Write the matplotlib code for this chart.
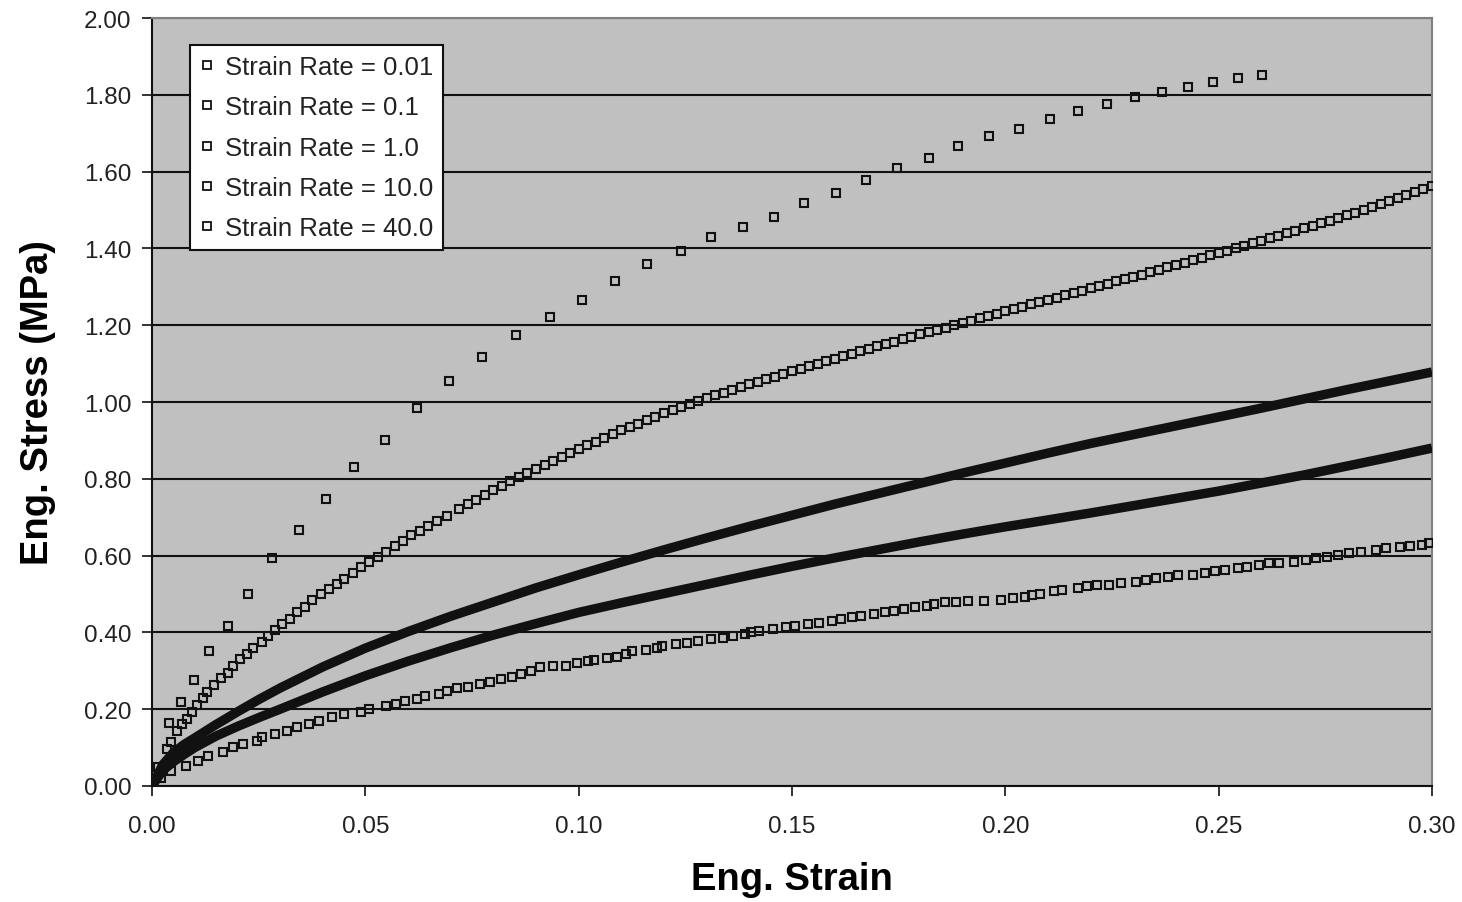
import matplotlib
matplotlib.use("Agg")
import matplotlib.pyplot as plt
from matplotlib.lines import Line2D

plt.rcParams['font.family'] = ['Liberation Sans', 'DejaVu Sans']

# strain rate = 0.01 (lowest curve)
sr001_strain = [0.0000, 0.0020, 0.0045, 0.0079, 0.0107, 0.0131, 0.0166, 0.0190, 0.0214, 0.0245,
                0.0257, 0.0288, 0.0316, 0.0340, 0.0368, 0.0391, 0.0423, 0.0451, 0.0490, 0.0509,
                0.0549, 0.0573, 0.0593, 0.0620, 0.0640, 0.0672, 0.0691, 0.0716, 0.0741, 0.0768,
                0.0792, 0.0818, 0.0843, 0.0866, 0.0888,
                0.0909, 0.0941, 0.0970, 0.0996, 0.1023, 0.1036, 0.1066, 0.1089, 0.1111, 0.1124,
                0.1158, 0.1184, 0.1195, 0.1228, 0.1254, 0.1279, 0.1309, 0.1339, 0.1361, 0.1390,
                0.1405, 0.1423, 0.1456, 0.1485, 0.1508, 0.1538, 0.1563, 0.1593, 0.1615, 0.1641,
                0.1662, 0.1692, 0.1718, 0.1740, 0.1762, 0.1788, 0.1817, 0.1832, 0.1859, 0.1884,
                0.1912, 0.1950,
                0.1991, 0.2017, 0.2045, 0.2062, 0.2081, 0.2115, 0.2132, 0.2171, 0.2192, 0.2216,
                0.2243, 0.2270, 0.2306, 0.2329, 0.2352, 0.2381, 0.2404, 0.2439, 0.2467, 0.2491,
                0.2515, 0.2545, 0.2566, 0.2594, 0.2618, 0.2641, 0.2677, 0.2704, 0.2727, 0.2755,
                0.2779, 0.2806, 0.2834, 0.2869, 0.2893, 0.2925, 0.2948, 0.2976, 0.2994]
sr001_stress = [0.000, 0.020, 0.040, 0.053, 0.066, 0.079, 0.088, 0.101, 0.109, 0.118,
                0.127, 0.135, 0.144, 0.153, 0.161, 0.170, 0.179, 0.188, 0.194, 0.200,
                0.209, 0.214, 0.222, 0.227, 0.235, 0.240, 0.248, 0.254, 0.259, 0.266,
                0.271, 0.278, 0.284, 0.291, 0.300,
                0.309, 0.312, 0.313, 0.320, 0.325, 0.328, 0.334, 0.337, 0.343, 0.351,
                0.355, 0.360, 0.365, 0.369, 0.372, 0.378, 0.382, 0.386, 0.391, 0.395,
                0.400, 0.404, 0.410, 0.413, 0.417, 0.421, 0.425, 0.430, 0.435, 0.439,
                0.443, 0.447, 0.452, 0.456, 0.461, 0.465, 0.470, 0.474, 0.478, 0.480,
                0.481, 0.483,
                0.485, 0.489, 0.493, 0.497, 0.501, 0.507, 0.510, 0.515, 0.520, 0.523,
                0.523, 0.528, 0.532, 0.536, 0.541, 0.545, 0.549, 0.549, 0.555, 0.559,
                0.563, 0.567, 0.571, 0.576, 0.580, 0.580, 0.584, 0.589, 0.593, 0.597,
                0.602, 0.606, 0.610, 0.615, 0.619, 0.623, 0.626, 0.628, 0.633]

# strain rate = 0.1 (lower solid band)
sr01_strain = [0.0, 0.0025, 0.005, 0.0075, 0.01, 0.015, 0.02, 0.025, 0.03, 0.04,
               0.05, 0.06, 0.07, 0.08, 0.09, 0.10, 0.11, 0.12, 0.13, 0.14,
               0.15, 0.16, 0.17, 0.18, 0.19, 0.20, 0.21, 0.22, 0.23, 0.24,
               0.25, 0.26, 0.27, 0.28, 0.29, 0.30]
sr01_stress = [0.000, 0.040, 0.063, 0.082, 0.100, 0.130, 0.155, 0.178, 0.200, 0.245,
               0.287, 0.325, 0.360, 0.393, 0.423, 0.452, 0.477, 0.501, 0.525, 0.549,
               0.572, 0.594, 0.615, 0.636, 0.656, 0.675, 0.693, 0.711, 0.730, 0.749,
               0.768, 0.789, 0.810, 0.833, 0.856, 0.880]

# strain rate = 1.0 (upper solid band)
sr1_strain = [0.0, 0.0025, 0.005, 0.0075, 0.01, 0.015, 0.02, 0.025, 0.03, 0.04,
              0.05, 0.06, 0.07, 0.08, 0.09, 0.10, 0.11, 0.12, 0.13, 0.14,
              0.15, 0.16, 0.17, 0.18, 0.19, 0.20, 0.21, 0.22, 0.23, 0.24,
              0.25, 0.26, 0.27, 0.28, 0.29, 0.30]
sr1_stress = [0.000, 0.055, 0.087, 0.108, 0.125, 0.160, 0.193, 0.225, 0.255, 0.310,
              0.359, 0.402, 0.442, 0.479, 0.516, 0.550, 0.583, 0.615, 0.646, 0.676,
              0.705, 0.734, 0.761, 0.788, 0.815, 0.841, 0.867, 0.892, 0.915, 0.938,
              0.961, 0.984, 1.008, 1.032, 1.055, 1.078]

# strain rate = 10.0
sr10_strain = [0.0, 0.0015, 0.0036, 0.0045, 0.0059, 0.0071, 0.0083, 0.0094, 0.0106, 0.0119,
               0.0130, 0.0146, 0.0161, 0.0178, 0.0190, 0.0206, 0.0222, 0.0237, 0.0257, 0.0273,
               0.0289, 0.0305, 0.0324, 0.0340, 0.0359, 0.0376, 0.0395, 0.0415, 0.0434, 0.0451,
               0.0470, 0.0490, 0.0509, 0.0529, 0.0549, 0.0569, 0.0588, 0.0608, 0.0628, 0.0648,
               0.0667, 0.0691,
               0.072, 0.074, 0.076, 0.078, 0.080, 0.082, 0.084, 0.086, 0.088, 0.090,
               0.092, 0.094, 0.096, 0.098, 0.100, 0.102, 0.104, 0.106, 0.108, 0.110,
               0.112, 0.114, 0.116, 0.118, 0.120, 0.122, 0.124, 0.126, 0.128, 0.130,
               0.132, 0.134, 0.136, 0.138, 0.140, 0.142, 0.144, 0.146, 0.148, 0.150,
               0.152, 0.154, 0.156, 0.158, 0.160, 0.162, 0.164, 0.166, 0.168, 0.170,
               0.172, 0.174, 0.176, 0.178, 0.180, 0.182, 0.184, 0.186, 0.188, 0.190,
               0.192, 0.194, 0.196, 0.198, 0.200, 0.202, 0.204, 0.206, 0.208, 0.210,
               0.212, 0.214, 0.216, 0.218, 0.220, 0.222, 0.224, 0.226, 0.228, 0.230,
               0.232, 0.234, 0.236, 0.238, 0.240, 0.242, 0.244, 0.246, 0.248, 0.250,
               0.252, 0.254, 0.256, 0.258, 0.260, 0.262, 0.264, 0.266, 0.268, 0.270,
               0.272, 0.274, 0.276, 0.278, 0.280, 0.282, 0.284, 0.286, 0.288, 0.290,
               0.292, 0.294, 0.296, 0.298, 0.300]
sr10_stress = [0.000, 0.050, 0.096, 0.114, 0.144, 0.161, 0.174, 0.192, 0.211, 0.228,
               0.246, 0.264, 0.281, 0.294, 0.312, 0.330, 0.343, 0.360, 0.374, 0.391,
               0.405, 0.422, 0.436, 0.453, 0.466, 0.484, 0.501, 0.514, 0.527, 0.540,
               0.554, 0.571, 0.584, 0.597, 0.610, 0.624, 0.637, 0.654, 0.663, 0.676,
               0.690, 0.703,
               0.722, 0.734, 0.746, 0.758, 0.770, 0.781, 0.793, 0.804, 0.815, 0.826,
               0.836, 0.847, 0.857, 0.868, 0.878, 0.888, 0.897, 0.907, 0.916, 0.926,
               0.935, 0.944, 0.953, 0.962, 0.971, 0.979, 0.987, 0.994, 1.002, 1.010,
               1.017, 1.024, 1.032, 1.039, 1.046, 1.053, 1.060, 1.066, 1.073, 1.080,
               1.087, 1.093, 1.100, 1.106, 1.113, 1.119, 1.126, 1.132, 1.139, 1.145,
               1.151, 1.157, 1.164, 1.170, 1.176, 1.182, 1.188, 1.194, 1.200, 1.206,
               1.212, 1.218, 1.224, 1.230, 1.236, 1.242, 1.248, 1.254, 1.260, 1.266,
               1.272, 1.278, 1.284, 1.290, 1.296, 1.302, 1.308, 1.314, 1.320, 1.326,
               1.332, 1.338, 1.345, 1.351, 1.357, 1.363, 1.369, 1.376, 1.382, 1.388,
               1.394, 1.401, 1.407, 1.414, 1.420, 1.426, 1.433, 1.439, 1.446, 1.452,
               1.459, 1.466, 1.472, 1.479, 1.486, 1.493, 1.501, 1.508, 1.516, 1.523,
               1.531, 1.539, 1.546, 1.554, 1.562]

# strain rate = 40.0 (top, sparse)
sr40_strain = [0.0, 0.0040, 0.0067, 0.0098, 0.0134, 0.0177, 0.0225, 0.0281, 0.0345, 0.0407,
               0.0474, 0.0545, 0.0620, 0.0695, 0.0774, 0.0853, 0.0932, 0.1007, 0.1086, 0.1161,
               0.1240, 0.1311, 0.1385, 0.1457, 0.1528, 0.1603, 0.1673, 0.1745, 0.1820, 0.1890,
               0.1962, 0.2033, 0.2104, 0.2171, 0.2238, 0.2305, 0.2368, 0.2428, 0.2487, 0.2545,
               0.2601]
sr40_stress = [0.000, 0.164, 0.220, 0.277, 0.351, 0.417, 0.501, 0.593, 0.667, 0.747,
               0.831, 0.901, 0.985, 1.055, 1.117, 1.174, 1.222, 1.266, 1.315, 1.359,
               1.393, 1.429, 1.456, 1.483, 1.517, 1.545, 1.578, 1.609, 1.636, 1.667,
               1.693, 1.711, 1.737, 1.759, 1.777, 1.794, 1.808, 1.821, 1.834, 1.843,
               1.852]

labels = ['Strain Rate = 0.01', 'Strain Rate = 0.1', 'Strain Rate = 1.0',
          'Strain Rate = 10.0', 'Strain Rate = 40.0']
x_ticks = [0.00, 0.05, 0.10, 0.15, 0.20, 0.25, 0.30]
y_ticks = [0.00, 0.20, 0.40, 0.60, 0.80, 1.00, 1.20, 1.40, 1.60, 1.80, 2.00]

ink = '#111111'
mk = dict(marker='s', linestyle='none', markersize=5.8, markeredgewidth=1.5,
          markerfacecolor='none', markeredgecolor=ink, zorder=3)

fig = plt.figure(figsize=(14.62, 9.03), dpi=100)
ax = fig.add_axes([152 / 1462, 116 / 903, 1280 / 1462, 768 / 903])
ax.set_facecolor('#c0c0c0')

# the two dense series look like solid bands
ax.plot(sr01_strain, sr01_stress, '-', color=ink, lw=6.8, zorder=3, solid_capstyle='butt')
ax.plot(sr1_strain, sr1_stress, '-', color=ink, lw=6.8, zorder=3, solid_capstyle='butt')

ax.plot(sr001_strain, sr001_stress, **mk)
ax.plot(sr10_strain, sr10_stress, **mk)
ax.plot(sr40_strain, sr40_stress, **mk)

ax.set_xlim(0, 0.30)
ax.set_ylim(0, 2.00)
ax.set_xticks(x_ticks)
ax.set_yticks(y_ticks)
ax.set_xticklabels(['%.2f' % v for v in x_ticks])
ax.set_yticklabels(['%.2f' % v for v in y_ticks])
ax.tick_params(axis='both', direction='out', length=7, width=1.2, color=ink,
               labelsize=17.5, labelcolor='#222222')
ax.tick_params(axis='x', pad=14)
ax.tick_params(axis='y', pad=8)

ax.yaxis.grid(True, color=ink, lw=1.5)
ax.set_axisbelow(True)
for s in ['left', 'bottom']:
    ax.spines[s].set_color(ink)
    ax.spines[s].set_linewidth(1.5)
for s in ['top', 'right']:
    ax.spines[s].set_color('#808080')
    ax.spines[s].set_linewidth(1.5)

ax.set_xlabel('Eng. Strain', fontsize=27.5, fontweight='bold', labelpad=17)
ax.set_ylabel('Eng. Stress (MPa)', fontsize=27.5, fontweight='bold', labelpad=20)

handles = [Line2D([], [], marker='s', linestyle='none', markersize=5.2, markeredgewidth=1.3,
                  markerfacecolor='none', markeredgecolor=ink) for _ in labels]
leg = ax.legend(handles, labels, loc='upper left', bbox_to_anchor=(38 / 1280, 1 - 27 / 768),
                borderaxespad=0, fontsize=18.5, frameon=True, fancybox=False,
                handlelength=0.5, handletextpad=0.45, borderpad=0.4, labelspacing=0.63)
leg.get_frame().set_edgecolor(ink)
leg.get_frame().set_linewidth(1.5)
leg.get_frame().set_facecolor('white')
leg.get_frame().set_alpha(1)
for t in leg.get_texts():
    t.set_color('#222222')

fig.savefig('out.png', dpi=100)
